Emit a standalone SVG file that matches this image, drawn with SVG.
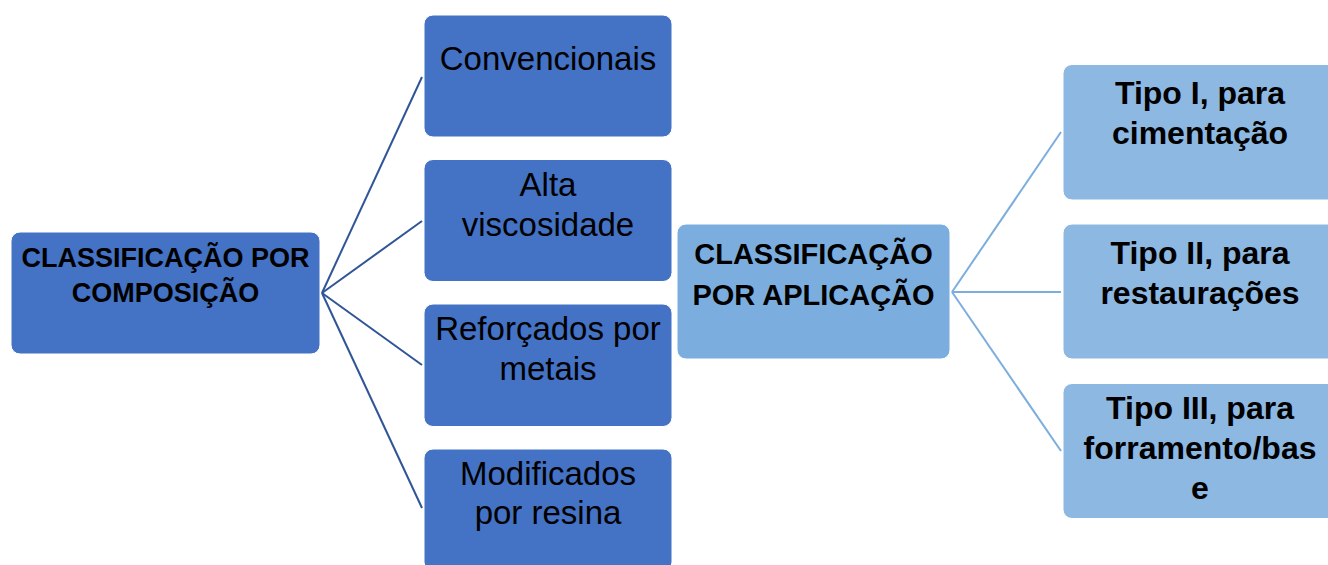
<svg xmlns="http://www.w3.org/2000/svg" width="1328" height="565" viewBox="0 0 1328 565">
<style>
.dk{fill:#4472C4;stroke:#ffffff;stroke-width:1}
.md{fill:#7BAEDE;stroke:#ffffff;stroke-width:1}
.lt{fill:#8DB8E2;stroke:#ffffff;stroke-width:1}
.t{font-family:"Liberation Sans",Arial,sans-serif;fill:#000;text-anchor:middle}
.b{font-weight:bold}
.c1{stroke:#2F5597;stroke-width:2;fill:none}
.c2{stroke:#7BAEDE;stroke-width:2;fill:none}
</style>
<rect width="1328" height="565" fill="#ffffff"/>
<g id="connectors">
<line class="c1" x1="322" y1="293" x2="422" y2="77"/>
<line class="c1" x1="322" y1="293" x2="422" y2="221"/>
<line class="c1" x1="322" y1="293" x2="422" y2="365"/>
<line class="c1" x1="322" y1="293" x2="422" y2="508"/>
<line class="c2" x1="952" y1="292" x2="1061" y2="132"/>
<line class="c2" x1="952" y1="292" x2="1061" y2="292"/>
<line class="c2" x1="952" y1="292" x2="1061" y2="451"/>
</g>
<g id="composicao">
<rect class="dk" x="11" y="232" width="309" height="122" rx="9"/>
<text class="t b" font-size="27" x="165.5" y="267">CLASSIFICAÇÃO POR</text>
<text class="t b" font-size="27" x="165.5" y="302">COMPOSIÇÃO</text>
</g>
<g id="convencionais">
<rect class="dk" x="424" y="15" width="248" height="122" rx="9"/>
<text class="t" font-size="33" x="548" y="69.5">Convencionais</text>
</g>
<g id="alta">
<rect class="dk" x="424" y="159.5" width="248" height="122" rx="9"/>
<text class="t" font-size="33" x="548" y="195.5">Alta</text>
<text class="t" font-size="33" x="548" y="236">viscosidade</text>
</g>
<g id="reforcados">
<rect class="dk" x="424" y="304" width="248" height="122.5" rx="9"/>
<text class="t" font-size="33" x="548" y="340">Reforçados por</text>
<text class="t" font-size="33" x="548" y="380">metais</text>
</g>
<g id="modificados">
<rect class="dk" x="424" y="449" width="248" height="122" rx="9"/>
<text class="t" font-size="33" x="548" y="485">Modificados</text>
<text class="t" font-size="33" x="548" y="524">por resina</text>
</g>
<g id="aplicacao">
<rect class="md" x="677" y="224" width="273" height="135" rx="9"/>
<text class="t b" font-size="29" x="813.5" y="264">CLASSIFICAÇÃO</text>
<text class="t b" font-size="29" x="813.5" y="305">POR APLICAÇÃO</text>
</g>
<g id="tipo1">
<rect class="lt" x="1063" y="64.5" width="275" height="135.5" rx="9"/>
<text class="t b" font-size="32" x="1200" y="103.5">Tipo I, para</text>
<text class="t b" font-size="32" x="1200" y="143.5">cimentação</text>
</g>
<g id="tipo2">
<rect class="lt" x="1063" y="224" width="275" height="135" rx="9"/>
<text class="t b" font-size="32" x="1200" y="263.5">Tipo II, para</text>
<text class="t b" font-size="32" x="1200" y="304">restaurações</text>
</g>
<g id="tipo3">
<rect class="lt" x="1063" y="383.5" width="275" height="135" rx="9"/>
<text class="t b" font-size="32" x="1200" y="418.5">Tipo III, para</text>
<text class="t b" font-size="32" x="1200" y="458.5">forramento/bas</text>
<text class="t b" font-size="32" x="1200" y="498.5">e</text>
</g>
</svg>
